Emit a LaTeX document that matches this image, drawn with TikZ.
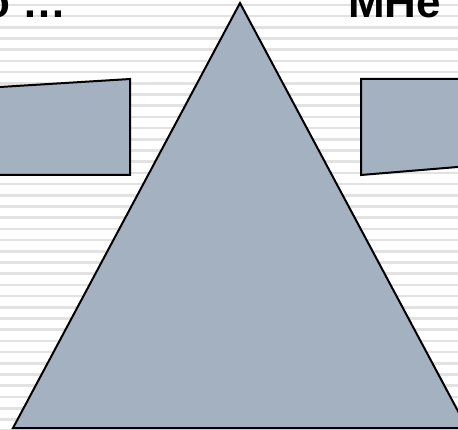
\documentclass[tikz,border=0pt]{standalone}
\usepackage{fontspec}
\setmainfont{Liberation Sans}
\definecolor{shapefill}{RGB}{163,177,192}
\definecolor{stripe}{RGB}{226,226,226}
\tikzset{
  shapestyle/.style={fill=shapefill, draw=black, line width=2pt, line join=miter},
  stripestyle/.style={draw=stripe, line width=2.6pt},
  titletext/.style={inner sep=0pt, font=\fontsize{44}{50}\selectfont\bfseries}
}
\begin{document}
\begin{tikzpicture}[x=1pt,y=-1pt]
\useasboundingbox (0,0) rectangle (458,430);
\fill[white] (0,0) rectangle (458,430);
\begin{scope}
\clip (0,0) rectangle (458,430);
\foreach \i in {0,...,38} {
  \draw[stripestyle] (0,{5+11.2*\i}) -- (458,{5+11.2*\i});
}
% left trapezoid
\draw[shapestyle] (-5,87.3) -- (130,79) -- (130,175) -- (-5,175) -- cycle;
% right trapezoid
\draw[shapestyle] (361,79) -- (466,79) -- (466,166.3) -- (361,175) -- cycle;
% triangle
\draw[shapestyle] (240,3) -- (467,428) -- (13,428) -- cycle;
\node[titletext, anchor=base east] (lefttext) at (67,18) {о …};
\node[titletext, anchor=base west] (righttext) at (348,18) {МНе};
\end{scope}
\end{tikzpicture}
\end{document}
